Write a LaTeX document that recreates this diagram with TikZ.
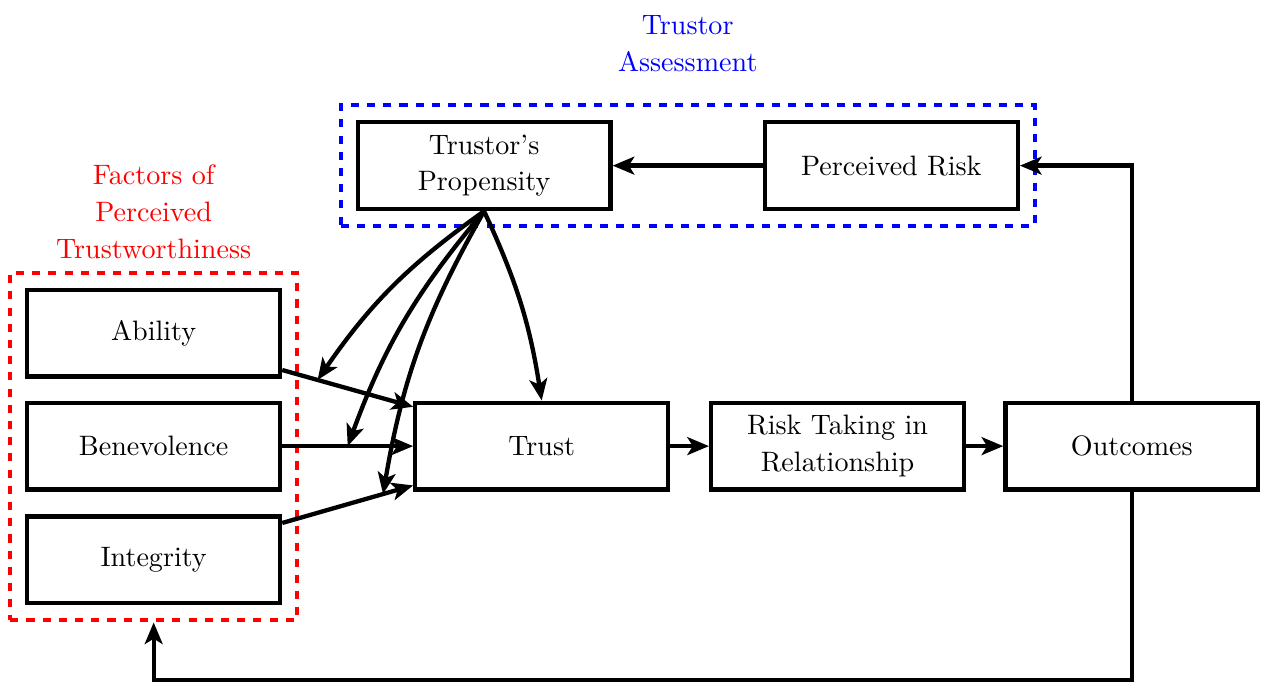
\documentclass[tikz,border=0pt]{standalone}
\usetikzlibrary{positioning,fit,arrows.meta}
\tikzset{
  box/.style={rectangle,draw,ultra thick,minimum width=3.29cm,minimum height=1.13cm,align=center},
  group/.style={rectangle,draw,ultra thick,dashed,inner sep=5.5pt},
  link/.style={ultra thick,->},
}
\begin{document}
\begin{tikzpicture}[>={Stealth[length=8pt,width=6.6pt,inset=2pt]},font=\fontsize{10.4}{13.6}\selectfont]
    \useasboundingbox (0,0) rectangle (16.45,8.876);
    \node (ability)     at (2.00,4.54)  [box] {Ability};
    \node (benevolence) at (2.00,3.07)  [box] {Benevolence};
    \node (integrity)   at (2.00,1.59)  [box] {Integrity};
    \node (trust)       at (7.05,3.07)  [box] {Trust};
    \node (risk)        at (10.90,3.07) [box] {Risk Taking in\\Relationship};
    \node (outcomes)    at (14.73,3.07) [box] {Outcomes};
    \node (propensity)  at (6.30,6.72)  [box] {Trustor's\\Propensity};
    \node (prisk)       at (11.60,6.72) [box] {Perceived Risk};
    \node [group,draw=red,fit=(ability) (integrity)] (factors) {};
    \node [group,draw=blue,fit=(propensity) (prisk)] (assess) {};
    \node [above=1pt of factors,text=red,align=center] (factorslabel) {Factors of\\Perceived\\Trustworthiness};
    \node [above=8pt of assess,text=blue,align=center] (assesslabel) {Trustor\\Assessment};
    \coordinate (base) at (0,0.03);
    % factors into trust
    \draw [link] (ability.-16) -- coordinate [pos=0.27] (m1) (trust.163);
    \draw [link] (benevolence) -- coordinate [pos=0.5] (m2) (trust);
    \draw [link] (integrity.16) -- coordinate [pos=0.77] (m3) (trust.197);
    \draw [link] (trust) -- (risk);
    \draw [link] (risk) -- (outcomes);
    \draw [link] (prisk) -- (propensity);
    % propensity moderates
    \draw [link] (propensity.south) to [bend right=10] (m1);
    \draw [link] (propensity.south) to [bend right=10] (m2);
    \draw [link] (propensity.south) to [bend right=10] (m3);
    \draw [link] (propensity.south) to [bend left=8] (trust.north);
    % feedback
    \draw [link] (outcomes.north) |- (prisk.east);
    \draw [link] (outcomes.south) -- (outcomes.south |- base) -| (factors.south);
  \end{tikzpicture}
\end{document}
